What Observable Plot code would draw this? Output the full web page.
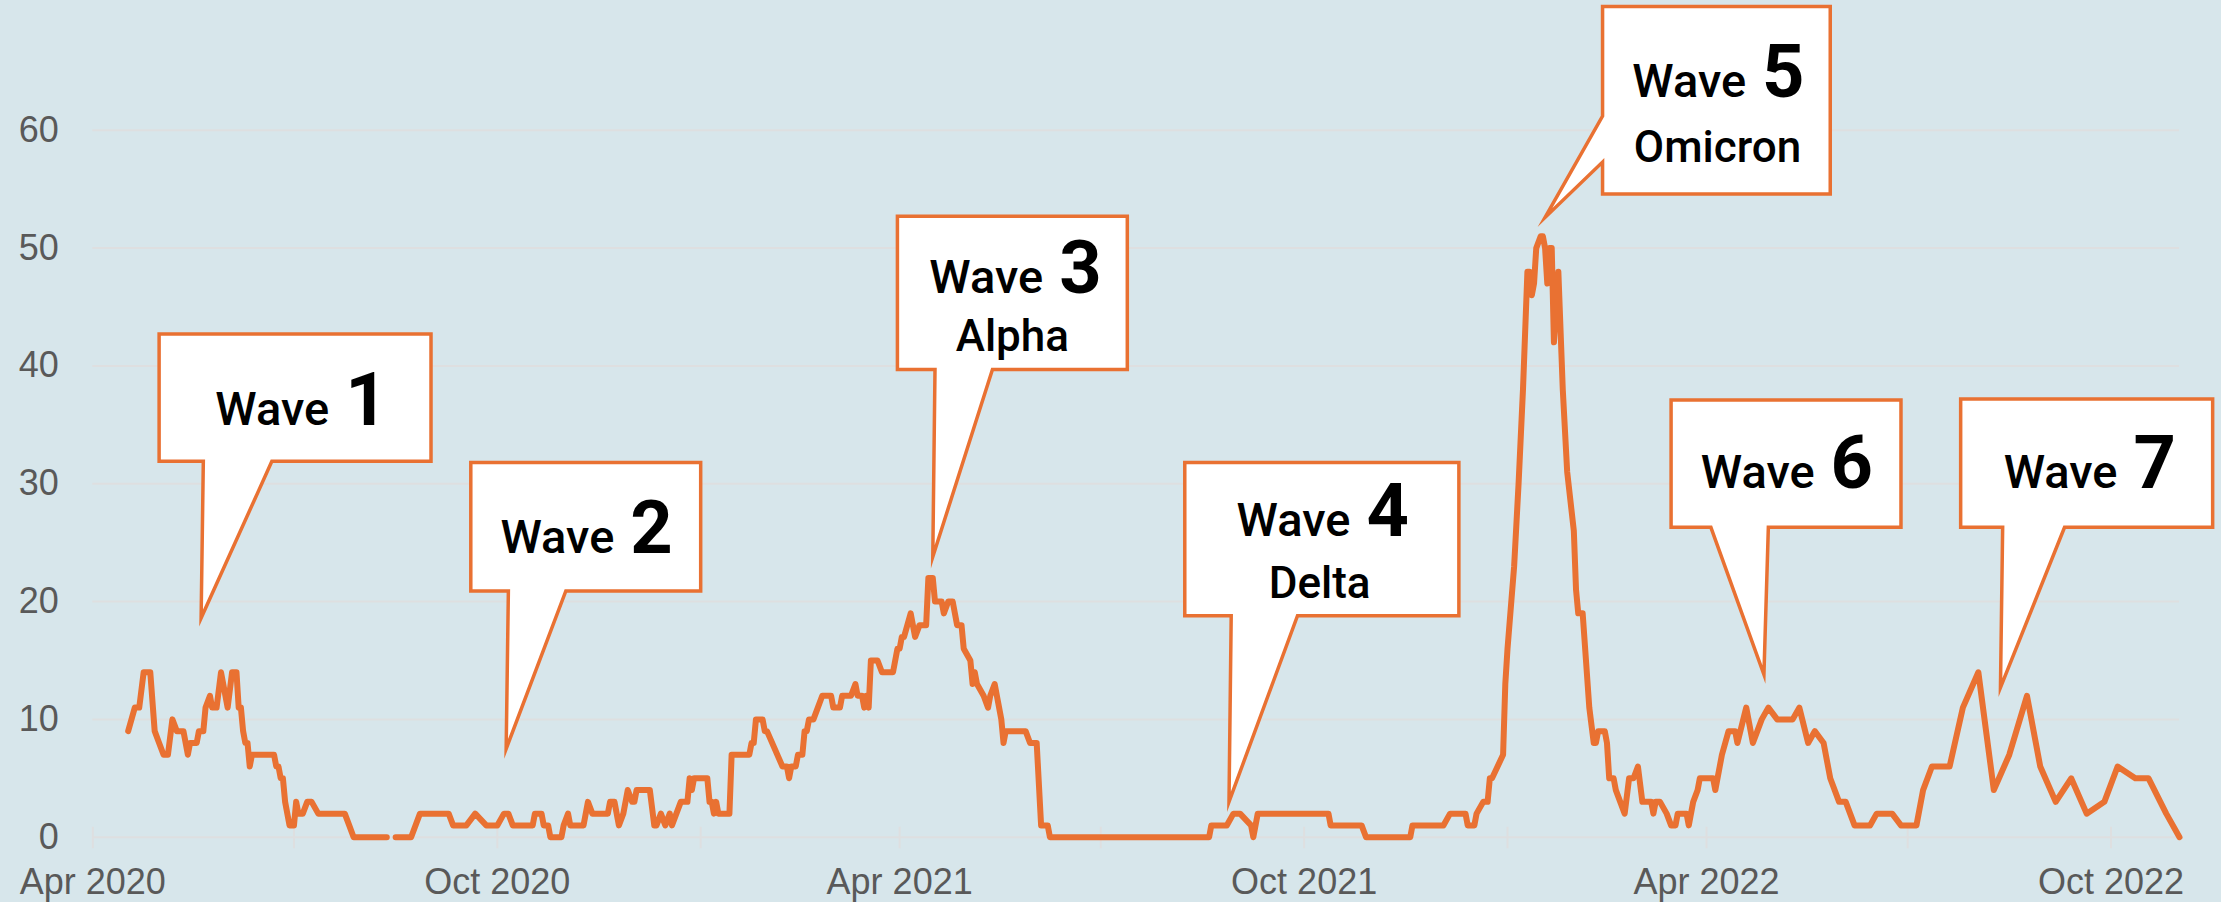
<!DOCTYPE html>
<html>
<head>
<meta charset="utf-8">
<script src="https://cdn.jsdelivr.net/npm/d3@7"></script>
<script src="https://cdn.jsdelivr.net/npm/@observablehq/plot@0.6"></script>
<style>
html, body { margin: 0; padding: 0; background: #d7e6eb; }
#chart svg { display: block; }
</style>
</head>
<body>
<div id="chart"></div>
<script>
// ---------- series ----------
const caseDates = [
  "2020-04-17","2020-04-20","2020-04-22","2020-04-24","2020-04-27","2020-04-29","2020-05-01","2020-05-03","2020-05-05","2020-05-07",
  "2020-05-09","2020-05-12","2020-05-14","2020-05-15","2020-05-18","2020-05-19","2020-05-21","2020-05-22","2020-05-24","2020-05-25",
  "2020-05-27","2020-05-29","2020-06-01","2020-06-03","2020-06-05","2020-06-06","2020-06-07","2020-06-08","2020-06-09","2020-06-10",
  "2020-06-11","2020-06-12","2020-06-22","2020-06-23","2020-06-24","2020-06-25","2020-06-26","2020-06-27","2020-06-29","2020-07-01",
  "2020-07-02","2020-07-03","2020-07-05","2020-07-07","2020-07-09","2020-07-12","2020-07-24","2020-07-26","2020-07-28","2020-08-12",
  "2020-08-14","2020-08-16","2020-08-23","2020-08-27","2020-09-09","2020-09-11","2020-09-17","2020-09-21","2020-09-26","2020-10-01",
  "2020-10-04","2020-10-06","2020-10-08","2020-10-17","2020-10-18","2020-10-21","2020-10-22","2020-10-24","2020-10-25","2020-10-30",
  "2020-10-31","2020-11-02","2020-11-03","2020-11-09","2020-11-11","2020-11-13","2020-11-20","2020-11-21","2020-11-23","2020-11-25",
  "2020-11-27","2020-11-29","2020-12-01","2020-12-02","2020-12-03","2020-12-09","2020-12-11","2020-12-12","2020-12-14","2020-12-16",
  "2020-12-18","2020-12-19","2020-12-21","2020-12-23","2020-12-26","2020-12-27","2020-12-28","2020-12-29","2021-01-04","2021-01-05",
  "2021-01-06","2021-01-07","2021-01-08","2021-01-09","2021-01-14","2021-01-15","2021-01-23","2021-01-24","2021-01-25","2021-01-26",
  "2021-01-29","2021-01-30","2021-01-31","2021-02-07","2021-02-09","2021-02-10","2021-02-11","2021-02-13","2021-02-14","2021-02-16",
  "2021-02-17","2021-02-18","2021-02-19","2021-02-21","2021-02-23","2021-02-25","2021-03-01","2021-03-02","2021-03-05","2021-03-06",
  "2021-03-10","2021-03-12","2021-03-13","2021-03-15","2021-03-16","2021-03-17","2021-03-18","2021-03-19","2021-03-22","2021-03-24",
  "2021-03-29","2021-03-31","2021-04-01","2021-04-02","2021-04-03","2021-04-06","2021-04-08","2021-04-10","2021-04-13","2021-04-14",
  "2021-04-16","2021-04-17","2021-04-20","2021-04-21","2021-04-23","2021-04-25","2021-04-27","2021-04-29","2021-04-30","2021-05-03",
  "2021-05-04","2021-05-05","2021-05-06","2021-05-09","2021-05-11","2021-05-12","2021-05-14","2021-05-17","2021-05-18","2021-05-19",
  "2021-05-28","2021-05-30","2021-06-02","2021-06-04","2021-06-07","2021-06-08","2021-08-19","2021-08-20","2021-08-27","2021-08-30",
  "2021-09-02","2021-09-07","2021-09-08","2021-09-10","2021-10-12","2021-10-13","2021-10-27","2021-10-29","2021-11-18","2021-11-19",
  "2021-12-03","2021-12-06","2021-12-13","2021-12-14","2021-12-17","2021-12-18","2021-12-21","2021-12-23","2021-12-24","2021-12-25",
  "2021-12-30","2021-12-31","2022-01-01","2022-01-04","2022-01-06","2022-01-08","2022-01-10","2022-01-11","2022-01-12","2022-01-13",
  "2022-01-14","2022-01-16","2022-01-17","2022-01-18","2022-01-19","2022-01-20","2022-01-21","2022-01-22","2022-01-24","2022-01-26",
  "2022-01-28","2022-01-31","2022-02-01","2022-02-02","2022-02-04","2022-02-07","2022-02-09","2022-02-10","2022-02-11","2022-02-14",
  "2022-02-15","2022-02-16","2022-02-18","2022-02-19","2022-02-21","2022-02-23","2022-02-25","2022-02-27","2022-03-01","2022-03-03",
  "2022-03-07","2022-03-08","2022-03-09","2022-03-11","2022-03-14","2022-03-16","2022-03-18","2022-03-19","2022-03-23","2022-03-24",
  "2022-03-26","2022-03-28","2022-03-29","2022-04-04","2022-04-05","2022-04-08","2022-04-11","2022-04-14","2022-04-15","2022-04-19",
  "2022-04-22","2022-04-26","2022-04-29","2022-05-03","2022-05-10","2022-05-13","2022-05-17","2022-05-20","2022-05-24","2022-05-27",
  "2022-05-31","2022-06-03","2022-06-07","2022-06-14","2022-06-17","2022-06-24","2022-06-28","2022-07-05","2022-07-08","2022-07-12",
  "2022-07-20","2022-07-26","2022-08-02","2022-08-09","2022-08-16","2022-08-24","2022-08-30","2022-09-06","2022-09-13","2022-09-20",
  "2022-09-28","2022-10-04","2022-10-12","2022-10-18","2022-10-26","2022-11-01"
];
const caseValues = [
  9,11,11,14,14,9,8,7,7,10,
  9,9,7,8,8,9,9,11,12,11,
  11,14,11,14,14,11,11,9,8,8,
  6,7,7,6,6,5,5,3,1,1,
  3,2,2,3,3,2,2,1,0,0,
  NaN,0,0,2,2,1,1,2,1,1,
  2,2,1,1,2,2,1,1,0,0,
  1,2,1,1,3,2,2,3,3,1,
  2,4,3,3,4,4,1,1,2,1,
  2,1,2,3,3,5,4,5,5,3,
  3,2,3,2,2,7,7,8,8,10,
  10,9,9,6,6,5,6,6,7,7,
  9,9,10,10,11,12,12,11,11,12,
  12,13,12,12,11,12,11,15,15,14,
  14,16,16,17,17,19,17,18,18,22,
  22,20,20,19,20,20,18,18,16,15,
  13,14,13,12,11,12,13,10,8,9,
  9,8,8,1,1,0,0,1,1,2,
  2,1,0,2,2,1,1,0,0,1,
  1,2,2,1,1,2,3,3,5,5,
  7,13,16,23,30,38,48,48,46,47,
  50,51,51,50,47,50,50,42,48,38,
  31,26,21,19,19,11,8,8,9,9,
  8,5,5,4,3,2,5,5,6,3,
  3,2,3,3,2,1,1,2,2,1,
  3,4,5,5,4,7,9,9,8,11,
  8,10,11,10,10,11,8,9,8,5,
  3,3,1,1,2,2,1,1,4,6,
  6,11,14,4,7,12,6,3,5,2,
  3,6,5,5,2,0
];

// ---------- axes ----------
const yTicks = [0, 10, 20, 30, 40, 50, 60];
const xTickDates = ["2020-04-01","2020-07-01","2020-10-01","2021-01-01","2021-04-01","2021-07-01","2021-10-01","2022-01-01","2022-04-01","2022-07-01","2022-10-01"];
const xLabelDates = ["2020-04-01","2020-10-01","2021-04-01","2021-10-01","2022-04-01","2022-10-01"];
const xLabels = ["Apr 2020","Oct 2020","Apr 2021","Oct 2021","Apr 2022","Oct 2022"];
const xDomain = ["2020-04-01","2022-11-01"];

// ---------- callouts (data coordinates) ----------
const waveWord = "Wave";
const waveNumbers = ["1","2","3","4","5","6","7"];
const variantNames = ["", "", "Alpha", "Delta", "Omicron", "", ""];
const boxLeft   = ["2020-05-01","2020-09-19","2021-03-31","2021-08-08","2022-02-13","2022-03-16","2022-07-25"];
const boxRight  = ["2020-09-01","2021-01-01","2021-07-13","2021-12-10","2022-05-27","2022-06-28","2022-11-16"];
const boxTop    = [42.7, 31.8, 52.7, 31.8, 70.5, 37.1, 37.2];
const boxBottom = [31.9, 20.9, 39.7, 18.8, 54.6, 26.3, 26.3];
const pointerSide = ["bottom","bottom","bottom","bottom","left","bottom","bottom"];
const pointerBaseA = ["2020-05-21","2020-10-06","2021-04-17","2021-08-29", 61.2, "2022-04-03","2022-08-13"];
const pointerBaseB = ["2020-06-21","2020-11-01","2021-05-13","2021-09-28", 57.3, "2022-04-29","2022-09-10"];
const tipDate  = ["2020-05-20","2020-10-05","2021-04-16","2021-08-28","2022-01-18","2022-04-27","2022-08-12"];
const tipValue = [18.6, 7.5, 23.8, 3.0, 52.6, 13.8, 12.7];
const labelSplit = ["2020-07-21","2020-11-27","2021-06-09","2021-10-26","2022-04-23","2022-05-24","2022-10-08"];
const labelBaseline = [35.0, 24.1, 46.2, 25.6, 62.8, 29.6, 29.6];
const variantCenter = [null, null, "2021-05-22", "2021-10-08", "2022-04-06", null, null];
const variantBaseline = [null, null, 41.3, 20.3, 57.3, null, null];

// ---------- build tables ----------
const D = (s) => new Date(s);
const series = caseDates.map((d, i) => ({date: D(d), value: caseValues[i]}));

const outline = [];
waveNumbers.forEach((n, i) => {
  const L = D(boxLeft[i]), R = D(boxRight[i]), T = boxTop[i], B = boxBottom[i];
  const pts = [[L, T], [R, T], [R, B]];
  if (pointerSide[i] === "bottom") {
    pts.push([D(pointerBaseB[i]), B], [D(tipDate[i]), tipValue[i]], [D(pointerBaseA[i]), B], [L, B]);
  } else {
    pts.push([L, B], [L, pointerBaseB[i]], [D(tipDate[i]), tipValue[i]], [L, pointerBaseA[i]]);
  }
  pts.forEach(([date, value]) => outline.push({id: n, date, value}));
});

const labels = waveNumbers.map((n, i) => ({num: n, x: D(labelSplit[i]), y: labelBaseline[i]}));
const variants = variantNames
  .map((name, i) => ({name, x: variantCenter[i] ? D(variantCenter[i]) : null, y: variantBaseline[i]}))
  .filter((d) => d.name);

const labelMap = new Map(xLabelDates.map((d, i) => [+D(d), xLabels[i]]));

const ORANGE = "#e97132";
const GRID = "#dedfe0";
const AXIS_TEXT = "#595959";
const CALLOUT_FONT = "Roboto, 'Noto Sans', sans-serif";

const chart = Plot.plot({
  width: 2221,
  height: 902,
  marginLeft: 92.3,
  marginRight: 42,
  marginTop: 129.8,
  marginBottom: 65.3,
  style: {background: "#d7e6eb", fontFamily: "'Liberation Sans', Arial, sans-serif", overflow: "visible"},
  x: {type: "utc", domain: xDomain.map(D), label: null},
  y: {domain: [0, 60], label: null},
  marks: [
    Plot.gridY(yTicks, {stroke: GRID, strokeWidth: 2, strokeOpacity: 1}),
    Plot.ruleX(xTickDates.map(D), {x: (d) => d, y1: 0, y2: 0, insetTop: -10, insetBottom: -11.6, stroke: GRID, strokeWidth: 2}),
    Plot.line(series, {x: "date", y: "value", stroke: ORANGE, strokeWidth: 6, strokeLinejoin: "round", strokeLinecap: "round"}),
    Plot.line(outline, {x: "date", y: "value", z: "id", curve: "linear-closed", fill: "white", stroke: ORANGE, strokeWidth: 3.5, strokeLinejoin: "miter", strokeMiterlimit: 12}),
    Plot.text(labels, {x: "x", y: "y", text: () => waveWord, textAnchor: "end", lineAnchor: "bottom", dx: -9, fontSize: 47, fontWeight: 500, fontFamily: CALLOUT_FONT, fill: "#000"}),
    Plot.text(labels, {x: "x", y: "y", text: "num", textAnchor: "start", lineAnchor: "bottom", dx: 7, fontSize: 74, fontWeight: 700, fontFamily: CALLOUT_FONT, fill: "#000"}),
    Plot.text(variants, {x: "x", y: "y", text: "name", textAnchor: "middle", lineAnchor: "bottom", fontSize: 44, fontWeight: 500, fontFamily: CALLOUT_FONT, fill: "#000"}),
    Plot.axisY(yTicks, {tickSize: 0, tickPadding: 34, fontSize: 36, fill: AXIS_TEXT, label: null}),
    Plot.axisX(xLabelDates.map(D), {tickSize: 0, tickPadding: 31, fontSize: 36, fill: AXIS_TEXT, label: null, tickFormat: (d) => labelMap.get(+d)})
  ]
});
document.getElementById("chart").appendChild(chart);
</script>
</body>
</html>
